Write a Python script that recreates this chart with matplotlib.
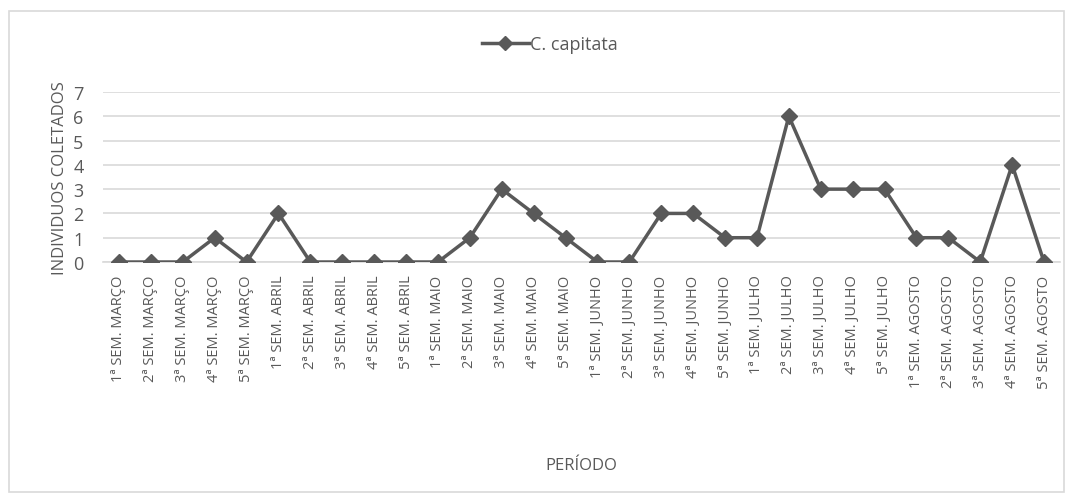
import matplotlib
matplotlib.use("Agg")
import matplotlib.pyplot as plt
from matplotlib.patches import Rectangle

plt.rcParams['font.family'] = ['Open Sans', 'DejaVu Sans']

meses = ["MARÇO", "ABRIL", "MAIO", "JUNHO", "JULHO", "AGOSTO"]
semanas = ["1ª", "2ª", "3ª", "4ª", "5ª"]
periodos = [f"{s} SEM. {m}" for m in meses for s in semanas]
capitata = [0, 0, 0, 1, 0,
            2, 0, 0, 0, 0,
            0, 1, 3, 2, 1,
            0, 0, 2, 2, 1,
            1, 6, 3, 3, 3,
            1, 1, 0, 4, 0]

cinza = "#595959"
grade = "#d9d9d9"

fig = plt.figure(figsize=(10.75, 5.02), dpi=100)
ax = fig.add_axes([103 / 1075, 1 - 263 / 502, (1060 - 103) / 1075, (263 - 93) / 502])

x = list(range(len(periodos)))
ax.plot(x, capitata, color=cinza, lw=2.5, marker="D", ms=8.5,
        label="C. capitata", zorder=3)

ax.set_xlim(-0.5, len(periodos) - 0.5)
ax.set_ylim(0, 7)
ax.set_yticks(range(8))
ax.set_xticks(x)
ax.set_xticklabels(periodos, rotation=90, fontsize=10.5, color=cinza)
ax.tick_params(axis="y", labelsize=13, colors=cinza, length=0, pad=14)
ax.tick_params(axis="x", length=0, pad=9)
ax.grid(axis="y", color=grade, lw=1.2)
ax.set_axisbelow(True)
for lado in ["top", "right", "left"]:
    ax.spines[lado].set_visible(False)
ax.spines["bottom"].set_color(grade)
ax.spines["bottom"].set_linewidth(1.2)

ax.set_ylabel("INDIVIDUOS COLETADOS", fontsize=12, color=cinza, labelpad=4)
fig.text(581 / 1075, 1 - 466 / 502, "PERÍODO", fontsize=12, color=cinza,
         ha="center", va="center")

leg = fig.legend(loc="center", bbox_to_anchor=(550 / 1075, 1 - 45 / 502),
                 frameon=False, fontsize=13, handlelength=2.6,
                 handletextpad=0.1, markerscale=0.8)
for t in leg.get_texts():
    t.set_color(cinza)

fig.patches.append(Rectangle((9 / 1075, 1 - 493 / 502), (1064 - 9) / 1075,
                             (493 - 12) / 502, transform=fig.transFigure,
                             fill=False, edgecolor=grade, lw=1.2))

fig.savefig("out.png", dpi=100)
